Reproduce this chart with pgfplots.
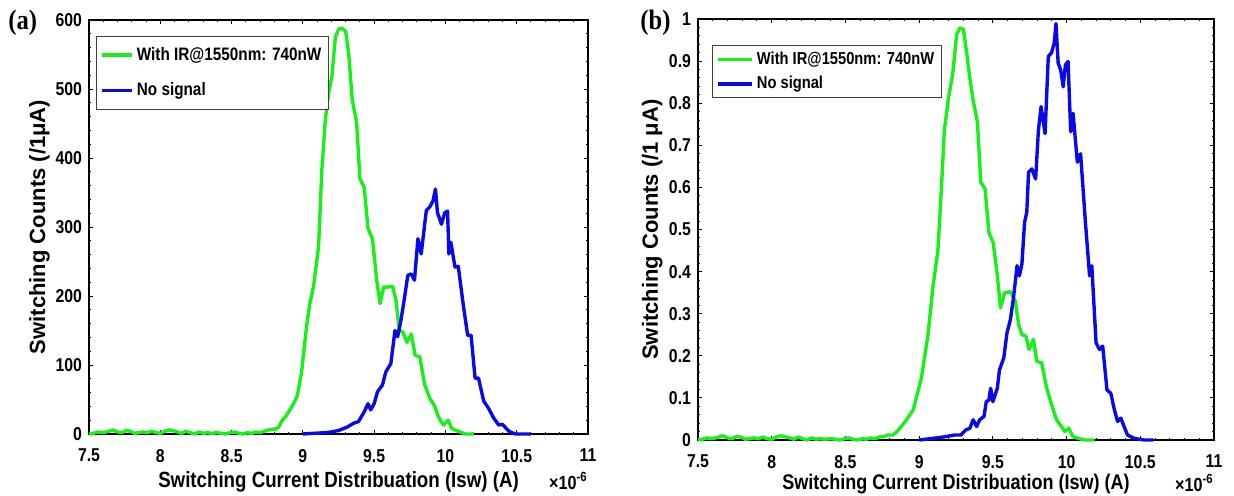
\documentclass[border=0pt]{standalone}
\usepackage{fontspec}
\setmainfont{Liberation Sans}
\newfontfamily\cond{Liberation Sans}[FakeStretch=0.85]
\newfontfamily\serifbf{Liberation Serif}[FakeStretch=0.88]
\usepackage{pgfplots}
\pgfplotsset{compat=1.18}

\definecolor{mgreen}{RGB}{25,240,25}
\definecolor{mblue}{RGB}{10,10,230}

\pgfplotsset{
  sw/.style={
    scale only axis, anchor=south west,
    xmin=7.5, xmax=11, xtick={7.5,8,...,11}, ymin=0,
    minor x tick num=4, minor y tick num=4,
    axis line style={line width=0.6pt},
    tick style={black, line width=0.5pt},
    major tick length=2pt, minor tick length=1.2pt,
    tick label style={font=\cond\bfseries\fontsize{9.3}{11}\selectfont},
    xticklabel style={yshift=-4pt},
    /pgf/number format/assume math mode=true,
    xlabel style={inner sep=0pt},
    ylabel style={inner sep=0pt, font=\bfseries\fontsize{11}{13}\selectfont},
    clip=false, legend cell align=left,
  },
  gline/.style={mgreen, line width=1.7pt, line join=round},
  bline/.style={mblue, line width=1.7pt, line join=round},
}

\begin{document}
\begin{tikzpicture}
\useasboundingbox (0,0) rectangle (617pt,-247.5pt);

% (a) raw counts
\begin{axis}[sw,
  at={(44.5pt,-217pt)}, width=249.5pt, height=207pt,
  ymax=600, ytick={0,100,...,600},
  xlabel={Switching Current Distribuation (Isw) (A)},
  xlabel style={at={(axis description cs:0.5,0)}, anchor=base, yshift=-26.5pt,
    font=\cond\bfseries\fontsize{11}{13}\selectfont},
  ylabel={Switching Counts (/1μA)},
  ylabel style={at={(axis description cs:-0.078,0.5)}, anchor=south},
  legend style={at={(axis description cs:0,1)}, anchor=north west,
    xshift=3.5pt, yshift=-8pt, draw=black!75, line width=0.5pt,
    inner xsep=2pt, inner ysep=3.8pt, row sep=6.6pt,
    nodes={inner sep=1.5pt},
    font=\cond\bfseries\fontsize{9}{10}\selectfont},
  legend image code/.code={\draw[#1] (0pt,0pt) -- (15pt,0pt);},
]
\addplot[gline] coordinates {
(7.50,0) (7.53,1) (7.56,3) (7.60,2) (7.64,4) (7.67,6) (7.70,3) (7.73,2)
(7.76,5) (7.79,4) (7.82,1) (7.85,2) (7.88,3) (7.91,2) (7.94,4) (7.97,2)
(8.00,1) (8.03,4) (8.06,6) (8.09,5) (8.12,3) (8.15,1) (8.18,4) (8.21,2)
(8.24,0) (8.27,3) (8.30,1) (8.33,2) (8.36,1) (8.40,2) (8.43,1) (8.46,0)
(8.49,2) (8.52,3) (8.55,1) (8.58,0) (8.61,2) (8.64,1) (8.67,3) (8.70,2)
(8.73,4) (8.76,6) (8.79,7) (8.81,7) (8.83,10) (8.85,18) (8.885,27) (8.93,42)
(8.96,55) (8.99,88) (9.027,158) (9.05,190) (9.074,213) (9.11,271) (9.133,382)
(9.157,454) (9.18,493) (9.204,519) (9.228,575) (9.251,587) (9.275,588)
(9.30,584) (9.322,550) (9.346,485) (9.377,452) (9.40,370) (9.43,358)
(9.457,298) (9.488,283) (9.518,223) (9.542,189) (9.566,213) (9.594,213)
(9.63,214) (9.653,194) (9.677,150) (9.70,148) (9.731,133) (9.76,145)
(9.788,114) (9.82,112) (9.854,72) (9.89,52) (9.925,40) (9.949,26)
(9.984,13) (10.02,20) (10.043,8) (10.09,4) (10.14,0) (10.2,0)
};
\addplot[bline] coordinates {
(9.00,0) (9.07,1) (9.17,2) (9.25,5) (9.31,10) (9.36,16) (9.39,18) (9.43,32)
(9.457,44) (9.476,35) (9.50,44) (9.523,61) (9.558,71) (9.582,90) (9.617,102)
(9.646,150) (9.665,141) (9.688,165) (9.712,196) (9.736,230) (9.76,232)
(9.783,223) (9.807,283) (9.83,261) (9.866,324) (9.89,329) (9.913,338)
(9.93,355) (9.944,321) (9.972,304) (9.996,321) (10.015,323) (10.024,261)
(10.038,278) (10.067,242) (10.09,243) (10.126,186) (10.156,143) (10.18,143)
(10.208,81) (10.232,81) (10.268,48) (10.303,37) (10.339,23) (10.374,13)
(10.40,14) (10.445,4) (10.49,0) (10.6,0)
};
\legend{With IR@1550nm: 740nW, No signal}
\node[anchor=base east, inner sep=0pt, font=\cond\bfseries\fontsize{9.5}{10}\selectfont]
  at (rel axis cs:1,0) [yshift=-27.5pt] {×10\textsuperscript{-6}};
\end{axis}

% (b) normalised counts
\begin{axis}[sw,
  at={(349pt,-220pt)}, width=258pt, height=210.5pt,
  ymax=1, ytick={0,0.1,...,1},
  yticklabel style={/pgf/number format/fixed, /pgf/number format/precision=1},
  xlabel={Switching Current Distribuation (Isw) (A)},
  xlabel style={at={(axis description cs:0.5,0)}, anchor=base, yshift=-24.5pt,
    font=\cond\bfseries\fontsize{10.6}{12}\selectfont},
  ylabel={Switching Counts (/1 μA)},
  ylabel style={at={(axis description cs:-0.068,0.5)}, anchor=south},
  legend style={at={(axis description cs:0,1)}, anchor=north west,
    xshift=7pt, yshift=-13pt, draw=black!75, line width=0.5pt,
    inner xsep=2pt, inner ysep=1.5pt, row sep=1.6pt,
    nodes={inner sep=1.5pt},
    font=\cond\bfseries\fontsize{8.65}{10}\selectfont},
  legend image code/.code={\draw[#1] (0pt,0pt) -- (17pt,0pt);},
]
\addplot[gline] coordinates {
(7.50,0) (7.53,.002) (7.56,.005) (7.60,.003) (7.64,.007) (7.67,.010) (7.70,.005)
(7.73,.003) (7.76,.008) (7.79,.007) (7.82,.002) (7.85,.003) (7.88,.005) (7.91,.003)
(7.94,.007) (7.97,.003) (8.00,.002) (8.03,.007) (8.06,.010) (8.09,.008) (8.12,.005)
(8.15,.002) (8.18,.007) (8.21,.003) (8.24,0) (8.27,.005) (8.30,.002) (8.33,.003)
(8.36,.002) (8.40,.003) (8.43,.002) (8.46,0) (8.49,.003) (8.52,.005) (8.55,.002)
(8.58,0) (8.61,.003) (8.64,.002) (8.67,.005) (8.70,.003) (8.73,.007) (8.757,.008)
(8.79,.012) (8.825,.012) (8.86,.024) (8.914,.048) (8.96,.072) (9.015,.147)
(9.06,.25) (9.093,.362) (9.127,.45) (9.149,.585) (9.171,.736) (9.2,.815)
(9.227,.867) (9.254,.963) (9.277,.979) (9.3,.976) (9.321,.923) (9.344,.859)
(9.366,.807) (9.395,.756) (9.418,.612) (9.447,.597) (9.473,.493) (9.502,.469)
(9.529,.394) (9.552,.314) (9.58,.35) (9.619,.352) (9.652,.33) (9.675,.274)
(9.697,.25) (9.724,.247) (9.746,.215) (9.775,.239) (9.798,.187) (9.831,.183)
(9.865,.123) (9.898,.084) (9.932,.048) (9.966,.032) (9.988,.02) (10.015,.028)
(10.044,.008) (10.077,.004) (10.122,0) (10.19,0)
};
\addplot[bline] coordinates {
(9.00,0) (9.093,.004) (9.18,.008) (9.24,.012) (9.283,.012) (9.317,.024)
(9.344,.028) (9.366,.048) (9.39,.032) (9.41,.048) (9.44,.056) (9.455,.091)
(9.473,.095) (9.485,.123) (9.5,.091) (9.53,.123) (9.545,.167) (9.574,.195)
(9.596,.255) (9.619,.286) (9.64,.338) (9.664,.414) (9.68,.39) (9.697,.418)
(9.715,.517) (9.73,.541) (9.742,.636) (9.764,.644) (9.79,.62) (9.809,.736)
(9.827,.792) (9.854,.728) (9.876,.911) (9.898,.92) (9.916,.943) (9.928,.989)
(9.943,.895) (9.96,.879) (9.977,.839) (9.992,.891) (10.01,.899) (10.028,.732)
(10.044,.776) (10.073,.66) (10.095,.68) (10.127,.521) (10.156,.39) (10.171,.414)
(10.2,.231) (10.223,.215) (10.245,.223) (10.274,.119) (10.3,.111) (10.324,.072)
(10.346,.044) (10.368,.052) (10.39,.032) (10.413,.012) (10.458,.004) (10.525,0)
(10.588,0)
};
\legend{With IR@1550nm: 740nW, No signal}
\node[anchor=base east, inner sep=0pt, font=\cond\bfseries\fontsize{9.5}{10}\selectfont]
  at (rel axis cs:1,0) [yshift=-25.5pt] {×10\textsuperscript{-6}};
\end{axis}

\node[anchor=north west, inner sep=0pt, font=\serifbf\bfseries\fontsize{14}{15}\selectfont]
  at (4pt,-5pt) {(a)};
\node[anchor=north west, inner sep=0pt, font=\serifbf\bfseries\fontsize{14}{15}\selectfont]
  at (320pt,-5pt) {(b)};
\end{tikzpicture}
\end{document}
